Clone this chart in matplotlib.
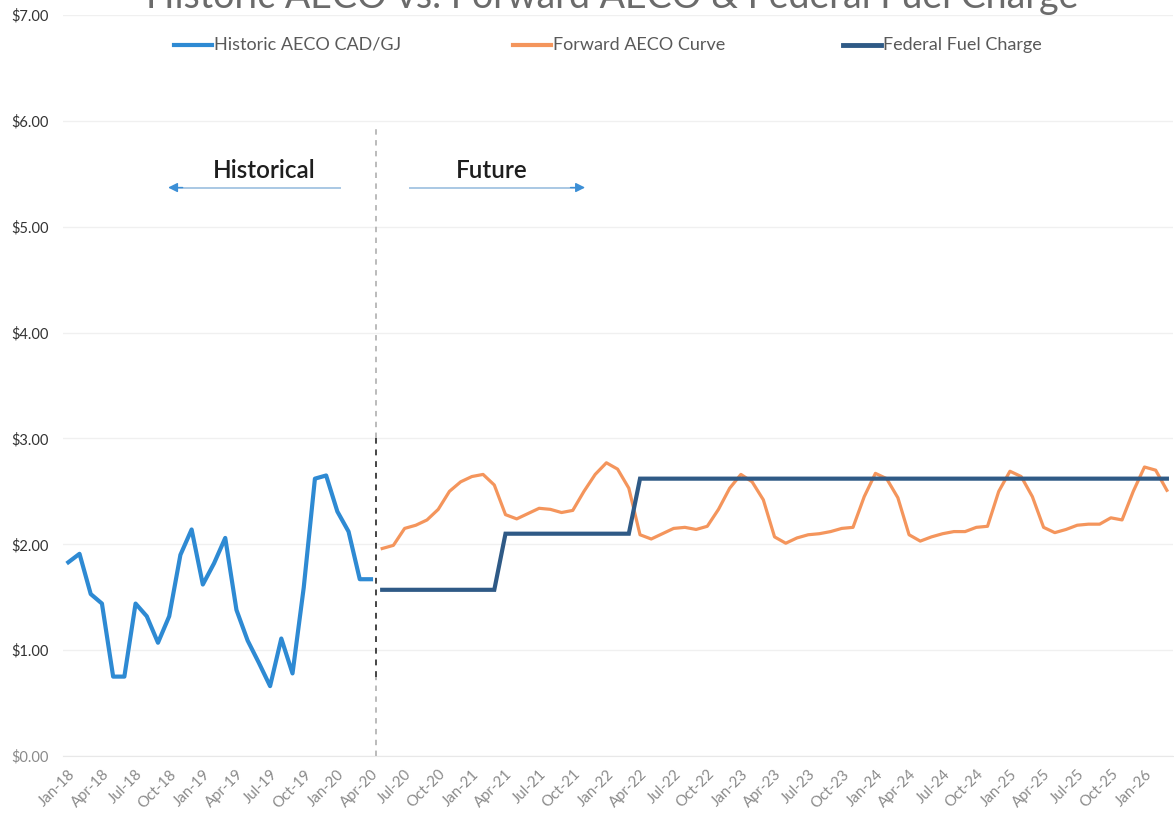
import matplotlib
matplotlib.use("Agg")
import matplotlib.pyplot as plt
from matplotlib.lines import Line2D
import numpy as np

# ---------------- data ----------------
title = "Historic AECO vs. Forward AECO & Federal Fuel Charge"
series_names = ["Historic AECO CAD/GJ", "Forward AECO Curve", "Federal Fuel Charge"]

# Jan-18 .. Apr-20 (28 months)
historic = [1.83, 1.91, 1.53, 1.44, 0.75, 0.75, 1.44, 1.32, 1.07, 1.32, 1.90, 2.14,
            1.62, 1.82, 2.06, 1.38, 1.09, 0.88, 0.66, 1.11, 0.78, 1.59, 2.62, 2.65,
            2.31, 2.12, 1.67, 1.67]

# May-20 .. Mar-26 (71 months)
forward = [1.96, 1.99, 2.15, 2.18, 2.23, 2.33, 2.50, 2.59,
           2.64, 2.66, 2.56, 2.28, 2.24, 2.29, 2.34, 2.33, 2.30, 2.32, 2.50, 2.66,
           2.77, 2.71, 2.53, 2.09, 2.05, 2.10, 2.15, 2.16, 2.14, 2.17, 2.33, 2.53,
           2.66, 2.59, 2.42, 2.07, 2.01, 2.06, 2.09, 2.10, 2.12, 2.15, 2.16, 2.45,
           2.67, 2.62, 2.44, 2.09, 2.03, 2.07, 2.10, 2.12, 2.12, 2.16, 2.17, 2.50,
           2.69, 2.64, 2.45, 2.16, 2.11, 2.14, 2.18, 2.19, 2.19, 2.25, 2.23, 2.50,
           2.73, 2.70, 2.51]

# May-20 .. Mar-26 (71 months)
federal = [1.57, 1.57, 1.57, 1.57, 1.57, 1.57, 1.57, 1.57, 1.57, 1.57, 1.57,
           2.10, 2.10, 2.10, 2.10, 2.10, 2.10, 2.10, 2.10, 2.10, 2.10, 2.10, 2.10,
           2.62, 2.62, 2.62, 2.62, 2.62, 2.62, 2.62, 2.62, 2.62, 2.62, 2.62, 2.62,
           2.62, 2.62, 2.62, 2.62, 2.62, 2.62, 2.62, 2.62, 2.62, 2.62, 2.62, 2.62,
           2.62, 2.62, 2.62, 2.62, 2.62, 2.62, 2.62, 2.62, 2.62, 2.62, 2.62, 2.62,
           2.62, 2.62, 2.62, 2.62, 2.62, 2.62, 2.62, 2.62, 2.62, 2.62, 2.62, 2.62]

tick_labels = ["Jan-18", "Apr-18", "Jul-18", "Oct-18", "Jan-19", "Apr-19", "Jul-19", "Oct-19",
               "Jan-20", "Apr-20", "Jul-20", "Oct-20", "Jan-21", "Apr-21", "Jul-21", "Oct-21",
               "Jan-22", "Apr-22", "Jul-22", "Oct-22", "Jan-23", "Apr-23", "Jul-23", "Oct-23",
               "Jan-24", "Apr-24", "Jul-24", "Oct-24", "Jan-25", "Apr-25", "Jul-25", "Oct-25",
               "Jan-26"]
y_ticks = [0, 1, 2, 3, 4, 5, 6, 7]

# ---------------- layout ----------------
n_hist = len(historic)
n_total = n_hist + len(forward)
x_hist = np.arange(n_hist)
x_fwd = np.arange(n_hist, n_total)

c_hist = "#2E8AD3"
c_fwd = "#F4955C"
c_fed = "#2F5A86"
c_text = "#595959"

plt.rcParams["font.family"] = ["Lato", "DejaVu Sans"]

W, H = 1174, 825
fig = plt.figure(figsize=(W / 100, H / 100), dpi=100)
ax = fig.add_axes([62.7 / W, 1 - 756 / H, (1172.5 - 62.7) / W, (756 - 15) / H])

ax.plot(x_hist, historic, color=c_hist, lw=3.0, solid_joinstyle="round", zorder=3)
ax.plot(x_fwd, forward, color=c_fwd, lw=2.3, solid_joinstyle="round", zorder=3)
ax.plot(x_fwd, federal, color=c_fed, lw=3.0, solid_joinstyle="miter", zorder=4)

ax.set_xlim(-0.5, n_total - 0.5)
ax.set_ylim(0, 7)
ax.set_yticks(y_ticks)
ax.set_yticklabels([f"${v:.2f}" for v in y_ticks], fontsize=10.5, color="#333333")
ax.get_yticklabels()[0].set_color("#8a8a8a")
ax.set_xticks(np.arange(0, n_total, 3)[:len(tick_labels)])
ax.set_xticklabels(tick_labels, rotation=45, ha="right", va="top",
                   rotation_mode="anchor", fontsize=10.8, color="#8a8a8a")
ax.tick_params(axis="both", length=0)
ax.tick_params(axis="x", pad=8)
ax.tick_params(axis="y", pad=10)
ax.grid(axis="y", color="#f0f0f0", lw=1.0)
ax.set_axisbelow(True)
for s in ["top", "right", "left"]:
    ax.spines[s].set_visible(False)
ax.spines["bottom"].set_color("#e8e8e8")

# divider between historical and future (scan shows lighter/darker parts)
xd = 27.45
ax.plot([xd, xd], [0, 0.75], color="#b5b5b5", lw=1.3, ls=(0, (3, 3)), zorder=2)
ax.plot([xd, xd], [0.75, 3.0], color="#444444", lw=1.4, ls=(0, (3, 3)), zorder=2)
ax.plot([xd, xd], [3.0, 5.97], color="#b5b5b5", lw=1.3, ls=(0, (3, 3)), zorder=2)

# annotations
ax.text(17.5, 5.53, "Historical", ha="center", va="center", fontsize=17.5,
        color="#1e1e1e", fontweight="semibold")
ax.text(37.8, 5.53, "Future", ha="center", va="center", fontsize=17.5,
        color="#1e1e1e", fontweight="semibold")
ax.plot([9.4, 24.2], [5.37, 5.37], color="#a9c8e4", lw=1.4, zorder=2)
ax.plot([30.5, 45.6], [5.37, 5.37], color="#a9c8e4", lw=1.4, zorder=2)
ax.annotate("", xy=(8.9, 5.37), xytext=(10.2, 5.37),
            arrowprops=dict(arrowstyle="-|>", color="#3c8fd6", lw=1.0,
                            mutation_scale=14, shrinkA=0, shrinkB=0))
ax.annotate("", xy=(46.1, 5.37), xytext=(44.8, 5.37),
            arrowprops=dict(arrowstyle="-|>", color="#3c8fd6", lw=1.0,
                            mutation_scale=14, shrinkA=0, shrinkB=0))

# title (partially cut off at top, as in the reference)
fig.text(612 / W, 1 - 8 / H, title, ha="center", va="baseline",
         fontsize=27, color="#6b6b6b")

# legend (manual)
leg_y = 1 - 45 / H
legend_items = [(174, 212, c_hist, 3.0), (513, 551, c_fwd, 3.0), (843, 881, c_fed, 3.5)]
for (x0, x1, col, lw), name in zip(legend_items, series_names):
    fig.add_artist(Line2D([x0 / W, x1 / W], [leg_y, leg_y], color=col, lw=lw,
                          transform=fig.transFigure))
    fig.text((x1 + 2) / W, leg_y, name, ha="left", va="center", fontsize=13, color=c_text)

fig.savefig("out.png", dpi=100)
